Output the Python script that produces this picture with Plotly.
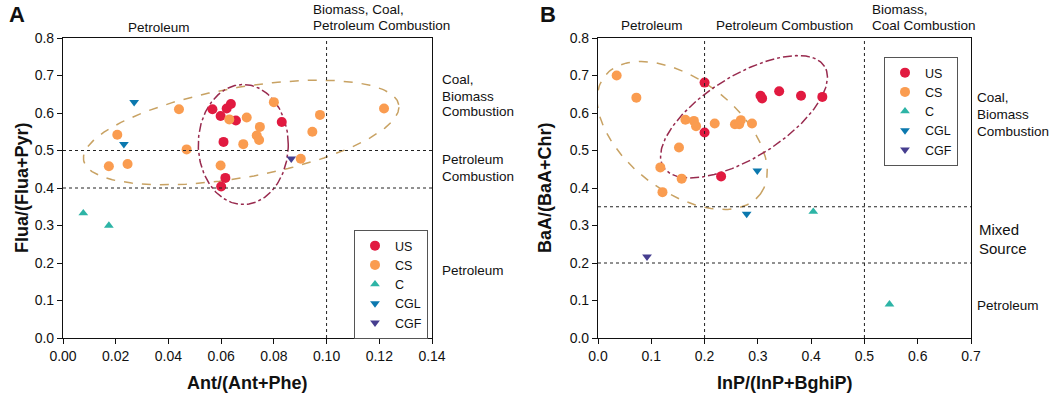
import math
import plotly.graph_objects as go

W, H = 1052, 395

# ---------------- data ----------------
series = ["US", "CS", "C", "CGL", "CGF"]

A_US_x = [0.0567, 0.0598, 0.0621, 0.0637, 0.0656, 0.0830, 0.0609, 0.0616, 0.0600]
A_US_y = [0.610, 0.592, 0.612, 0.624, 0.580, 0.576, 0.523, 0.427, 0.404]
A_CS_x = [0.0440, 0.0206, 0.0174, 0.0245, 0.0469, 0.0598, 0.0631, 0.0697, 0.0747,
          0.0735, 0.0744, 0.0684, 0.0800, 0.0975, 0.0946, 0.0902, 0.1218]
A_CS_y = [0.610, 0.542, 0.458, 0.464, 0.503, 0.460, 0.583, 0.588, 0.563,
          0.540, 0.528, 0.517, 0.629, 0.595, 0.550, 0.478, 0.612]
A_C_x = [0.0077, 0.0174]
A_C_y = [0.333, 0.300]
A_CGL_x = [0.0270, 0.0231]
A_CGL_y = [0.629, 0.517]
A_CGF_x = [0.0866]
A_CGF_y = [0.478]

B_US_x = [0.200, 0.200, 0.231, 0.305, 0.308, 0.340, 0.381, 0.421]
B_US_y = [0.681, 0.548, 0.431, 0.646, 0.639, 0.658, 0.646, 0.643]
B_CS_x = [0.035, 0.072, 0.117, 0.121, 0.152, 0.157, 0.164, 0.180, 0.184,
          0.219, 0.257, 0.265, 0.268, 0.289]
B_CS_y = [0.700, 0.641, 0.455, 0.389, 0.508, 0.425, 0.582, 0.579, 0.565,
          0.572, 0.570, 0.570, 0.581, 0.572]
B_C_x = [0.404, 0.547]
B_C_y = [0.337, 0.090]
B_CGL_x = [0.299, 0.279]
B_CGL_y = [0.446, 0.331]
B_CGF_x = [0.092]
B_CGF_y = [0.217]

A_xticks = [0.00, 0.02, 0.04, 0.06, 0.08, 0.10, 0.12, 0.14]
A_xticklabels = ["0.00", "0.02", "0.04", "0.06", "0.08", "0.10", "0.12", "0.14"]
B_xticks = [0.0, 0.1, 0.2, 0.3, 0.4, 0.5, 0.6, 0.7]
B_xticklabels = ["0.0", "0.1", "0.2", "0.3", "0.4", "0.5", "0.6", "0.7"]
yticks = [0.0, 0.1, 0.2, 0.3, 0.4, 0.5, 0.6, 0.7, 0.8]
yticklabels = ["0.0", "0.1", "0.2", "0.3", "0.4", "0.5", "0.6", "0.7", "0.8"]

A_vlines = [0.10]
A_hlines = [0.4, 0.5]
B_vlines = [0.2, 0.5]
B_hlines = [0.35, 0.2]

# ---------------- styling ----------------
colors = {"US": "#E11A40", "CS": "#FA9C50", "C": "#2DB4A6", "CGL": "#0B78AE", "CGF": "#463E8F"}
symbols = {"US": "circle", "CS": "circle", "C": "triangle-up", "CGL": "triangle-down", "CGF": "triangle-down"}
sizes = {"US": 10, "CS": 10, "C": 8.5, "CGL": 8.5, "CGF": 8.5}
FONT = "Liberation Sans, Arial, sans-serif"

# plot areas in window pixels
AX0, AX1 = 63, 432
BX0, BX1 = 598, 971
PY0, PY1 = 38, 338


def px2fx(px):
    return px / W


def px2fy(py):
    return 1 - py / H


fig = go.Figure()

A_data = {"US": (A_US_x, A_US_y), "CS": (A_CS_x, A_CS_y), "C": (A_C_x, A_C_y),
          "CGL": (A_CGL_x, A_CGL_y), "CGF": (A_CGF_x, A_CGF_y)}
B_data = {"US": (B_US_x, B_US_y), "CS": (B_CS_x, B_CS_y), "C": (B_C_x, B_C_y),
          "CGL": (B_CGL_x, B_CGL_y), "CGF": (B_CGF_x, B_CGF_y)}

# ---------------- ellipses (drawn under markers) ----------------
A_sx = (AX1 - AX0) / 0.14
A_sy = (PY1 - PY0) / 0.8
B_sx = (BX1 - BX0) / 0.7
B_sy = (PY1 - PY0) / 0.8


def ellipse(cx, cy, a, b, ang, sx, sy, n=200):
    th = math.radians(ang)
    xs, ys = [], []
    for i in range(n + 1):
        t = 2 * math.pi * i / n
        dx = a * math.cos(t) * math.cos(th) - b * math.sin(t) * math.sin(th)
        dy = a * math.cos(t) * math.sin(th) + b * math.sin(t) * math.cos(th)
        xs.append(cx + dx / sx)
        ys.append(cy + dy / sy)
    return xs, ys


ORANGE_E = "#C8A263"
RED_E = "#982A4E"
ellipses = [
    # (center x, center y, semi-a px, semi-b px, angle deg, panel, color, dash)
    (0.0676, 0.548, 160, 45, 10, "A", ORANGE_E, "dash"),
    (0.0684, 0.516, 45, 60, 0, "A", RED_E, "dashdot"),
    (0.158, 0.540, 97.7, 56.3, -37, "B", ORANGE_E, "dash"),
    (0.274, 0.590, 95, 41, 32, "B", RED_E, "dashdot"),
]
for cx, cy, a, b, ang, pnl, col, dash in ellipses:
    if pnl == "A":
        xs, ys = ellipse(cx, cy, a, b, ang, A_sx, A_sy)
        xa, ya = "x", "y"
    else:
        xs, ys = ellipse(cx, cy, a, b, ang, B_sx, B_sy)
        xa, ya = "x2", "y2"
    fig.add_trace(go.Scatter(x=xs, y=ys, mode="lines", xaxis=xa, yaxis=ya,
                             line=dict(color=col, width=1.5, dash=dash),
                             showlegend=False, hoverinfo="skip"))

# ---------------- markers ----------------
for s in series:
    x, y = A_data[s]
    fig.add_trace(go.Scatter(x=x, y=y, mode="markers", name=s, xaxis="x", yaxis="y",
                             legend="legend",
                             marker=dict(color=colors[s], symbol=symbols[s], size=sizes[s],
                                         line=dict(width=0))))
for s in series:
    x, y = B_data[s]
    fig.add_trace(go.Scatter(x=x, y=y, mode="markers", name=s, xaxis="x2", yaxis="y2",
                             legend="legend2",
                             marker=dict(color=colors[s], symbol=symbols[s], size=sizes[s],
                                         line=dict(width=0))))

# ---------------- reference dotted lines ----------------
shapes = []
for v in A_vlines:
    shapes.append(dict(type="line", xref="x", yref="y domain", x0=v, x1=v, y0=0, y1=1,
                       line=dict(color="#222", width=1, dash="dot")))
for h in A_hlines:
    shapes.append(dict(type="line", xref="x domain", yref="y", x0=0, x1=1, y0=h, y1=h,
                       line=dict(color="#222", width=1, dash="dot")))
for v in B_vlines:
    shapes.append(dict(type="line", xref="x2", yref="y2 domain", x0=v, x1=v, y0=0, y1=1,
                       line=dict(color="#222", width=1, dash="dot")))
for h in B_hlines:
    shapes.append(dict(type="line", xref="x2 domain", yref="y2", x0=0, x1=1, y0=h, y1=h,
                       line=dict(color="#222", width=1, dash="dot")))

# ---------------- axes ----------------
axis_common = dict(showgrid=False, zeroline=False, showline=True, linecolor="#111",
                   linewidth=1.2, mirror=True, ticks="outside", ticklen=5, tickwidth=1.2,
                   tickcolor="#111", tickfont=dict(family=FONT, size=14, color="#111"),
                   automargin=False, fixedrange=True)

fig.update_layout(
    xaxis=dict(domain=[px2fx(AX0), px2fx(AX1)], range=[0, 0.14], tickvals=A_xticks,
               ticktext=A_xticklabels, anchor="y", **axis_common),
    yaxis=dict(domain=[px2fy(PY1), px2fy(PY0)], range=[0, 0.8], tickvals=yticks,
               ticktext=yticklabels, anchor="x", **axis_common),
    xaxis2=dict(domain=[px2fx(BX0), px2fx(BX1)], range=[0, 0.7], tickvals=B_xticks,
                ticktext=B_xticklabels, anchor="y2", **axis_common),
    yaxis2=dict(domain=[px2fy(PY1), px2fy(PY0)], range=[0, 0.8], tickvals=yticks,
                ticktext=yticklabels, anchor="x2", **axis_common),
)

# ---------------- texts ----------------
ann = []


def txt(text, x, y, size=13.5, xanchor="left", bold=False, angle=0):
    t = f"<b>{text}</b>" if bold else text
    ann.append(dict(text=t, x=px2fx(x), y=px2fy(y), xref="paper", yref="paper",
                    xanchor=xanchor, yanchor="middle", showarrow=False, textangle=angle,
                    font=dict(family=FONT, size=size, color="#111")))


# panel letters
txt("A", 7, 15, size=22, bold=True)
txt("B", 538, 15, size=22, bold=True)

# axis titles
txt("Ant/(Ant+Phe)", (AX0 + AX1) / 2, 383, size=18, xanchor="center", bold=True)
txt("InP/(InP+BghiP)", (BX0 + BX1) / 2, 383, size=18, xanchor="center", bold=True)
txt("Flua/(Flua+Pyr)", 22, (PY0 + PY1) / 2, size=18, xanchor="center", bold=True, angle=-90)
txt("BaA/(BaA+Chr)", 545, (PY0 + PY1) / 2, size=18, xanchor="center", bold=True, angle=-90)

# panel A top labels
txt("Petroleum", 159, 27, xanchor="center")
txt("Biomass, Coal,", 311, 9.5)
txt("Petroleum Combustion", 311, 25.5)
# panel A right labels
txt("Coal,", 440, 80)
txt("Biomass", 440, 96.5)
txt("Combustion", 440, 112)
txt("Petroleum", 440, 160)
txt("Combustion", 440, 177)
txt("Petroleum", 440, 270)

# panel B top labels
txt("Petroleum", 652, 25, xanchor="center")
txt("Petroleum Combustion", 784, 25, xanchor="center")
txt("Biomass,", 870, 9.5)
txt("Coal Combustion", 870, 25.5)
# panel B right labels
txt("Coal,", 975, 97.5)
txt("Biomass", 975, 114)
txt("Combustion", 975, 131)
txt("Mixed", 977, 229.5, size=15)
txt("Source", 977, 248.5, size=15)
txt("Petroleum", 975, 305)

legend_common = dict(xanchor="left", yanchor="top", bgcolor="white", bordercolor="#555",
                     borderwidth=1, font=dict(family=FONT, size=12.5, color="#111"),
                     tracegroupgap=0, itemclick=False, itemdoubleclick=False)

fig.update_layout(
    width=W, height=H,
    margin=dict(l=0, r=0, t=0, b=0),
    paper_bgcolor="white", plot_bgcolor="white",
    template="none",
    font=dict(family=FONT, size=14, color="#111"),
    showlegend=True,
    legend=dict(x=px2fx(354), y=px2fy(230), **legend_common),
    legend2=dict(x=px2fx(884), y=px2fy(57), **legend_common),
    shapes=shapes,
    annotations=ann,
)

# remove the default 8px page margin so the figure fills the window exactly
fig.write_html("out.html", config={"displayModeBar": False},
               post_script="document.body.style.margin='0px';")
